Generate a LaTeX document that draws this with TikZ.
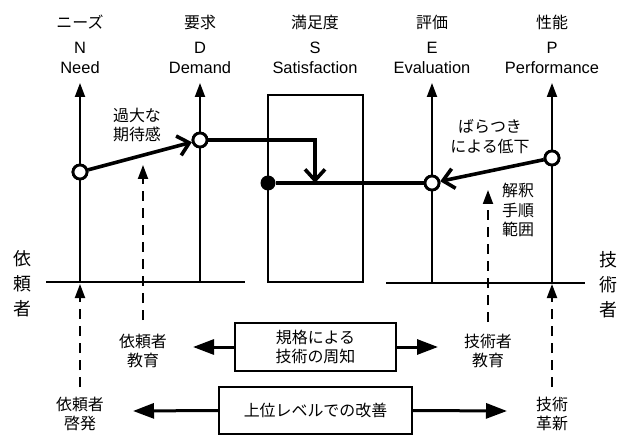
\documentclass[tikz,border=0pt]{standalone}
\usepackage{fontspec}
\setmainfont{Liberation Sans}
\newfontfamily\jp{Noto Sans CJK JP}
\usetikzlibrary{arrows.meta}
\begin{document}
\begin{tikzpicture}[x=1bp,y=-1bp,
  thinln/.style={line width=2bp},
  thickln/.style={line width=3.6bp},
  axis/.style={thinln,-{Triangle[length=14bp,width=10bp]}},
  dasharr/.style={thinln,dash pattern=on 10bp off 7bp,-{Triangle[length=14bp,width=10bp]}},
  boxarr/.style={line width=3bp,-{Triangle[length=21bp,width=15bp]}},
  openarr/.style={thickln,-{Straight Barb[length=11bp,width=20bp,line width=3.6bp]}},
  ocirc/.style={circle,draw,line width=2.8bp,fill=white,minimum size=14bp,inner sep=0pt},
  fcirc/.style={circle,fill=black,minimum size=15bp,inner sep=0pt},
  lbl/.style={font=\jp\fontsize{16}{20}\selectfont,align=center,inner sep=0pt},
  lat/.style={font=\fontsize{16.5}{20}\selectfont,align=center,inner sep=0pt},
  vlbl/.style={font=\jp\fontsize{18}{25}\selectfont,align=center,inner sep=0pt},
  txtbox/.style={draw,line width=2.4bp,font=\jp\fontsize{16}{20}\selectfont,align=center,inner sep=0pt}
]
\useasboundingbox (0,0) rectangle (629,435);
% top labels
\foreach \nm/\xx/\ja/\ab/\en in {n/80/ニーズ/N/Need, d/200/要求/D/Demand, s/315/満足度/S/Satisfaction, e/432/評価/E/Evaluation, p/552/性能/P/Performance}{
  \node[lbl] (ja\nm) at (\xx,22) {\ja};
  \node[lat] (ab\nm) at (\xx,48) {\ab};
  \node[lat] (en\nm) at (\xx,68) {\en};
}
% axis coordinates
\coordinate (ntop) at (80,83);  \coordinate (nbot) at (80,282);
\coordinate (dtop) at (200,83); \coordinate (dbot) at (200,282);
\coordinate (etop) at (432,83); \coordinate (ebot) at (432,282);
\coordinate (ptop) at (552,83); \coordinate (pbot) at (552,282);
\coordinate (ll) at (46,282); \coordinate (lr) at (245,282);
\coordinate (rl) at (386,283); \coordinate (rr) at (585,283);
% satisfaction box
\draw[thinln] (268,95) rectangle (363,282);
% axes
\draw[axis] (nbot) -- (ntop);
\draw[axis] (dbot) -- (dtop);
\draw[axis] (ebot) -- (etop);
\draw[axis] (pbot) -- (ptop);
\draw[thinln] (ll) -- (lr);
\draw[thinln] (rl) -- (rr);
% circles
\node[ocirc] (nc) at (80,172) {};
\node[ocirc] (dc) at (200,140) {};
\node[ocirc] (ec) at (432,183) {};
\node[ocirc] (pc) at (552,158) {};
\node[fcirc] (sd) at (268,183) {};
\coordinate (stip) at (315,183);
% thick connectors
\draw[openarr] (nc) -- (dc);
\draw[openarr] (dc) -| (stip);
\draw[thickln] (sd) -- (ec);
\draw[openarr] (pc) -- (ec);
% redraw circles on top
\node[ocirc] at (nc) {};
\node[ocirc] at (dc) {};
\node[ocirc] at (ec) {};
\node[ocirc] at (pc) {};
% labels
\node[lbl] (kadai) at (137,125) {過大な\\期待感};
\node[lbl] (bara) at (490,137) {ばらつき\\による低下};
\node[lbl] (kaishaku) at (518,210) {解釈\\手順\\範囲};
% dashed arrows
\coordinate (d1s) at (143,320); \coordinate (d1e) at (143,165);
\coordinate (d2s) at (488,322); \coordinate (d2e) at (488,190);
\coordinate (d3s) at (80,387);  \coordinate (d3e) at (80,284);
\coordinate (d4s) at (552,387); \coordinate (d4e) at (552,284);
\draw[dasharr] (d1s) -- (d1e);
\draw[dasharr] (d2s) -- (d2e);
\draw[dasharr] (d3s) -- (d3e);
\draw[dasharr] (d4s) -- (d4e);
% side labels
\node[vlbl] (irai) at (22,284) {依\\頼\\者};
\node[vlbl] (gijutsu) at (608,285) {技\\術\\者};
% bottom labels
\node[lbl] (iraikyo) at (143,351) {依頼者\\教育};
\node[lbl] (gikyo) at (488,351) {技術者\\教育};
\node[lbl] (iraikei) at (80,414) {依頼者\\啓発};
\node[lbl] (gikaku) at (552,414) {技術\\革新};
% boxes
\node[txtbox,minimum width=161bp,minimum height=48bp] (box1) at (315.5,347) {規格による\\技術の周知};
\node[txtbox,minimum width=193bp,minimum height=47bp] (box2) at (315.5,410.5) {上位レベルでの改善};
\coordinate (b1l) at (193,347); \coordinate (b1r) at (438,347);
\coordinate (b2l) at (133,411); \coordinate (b2r) at (507,411);
\draw[boxarr] (box1.west) -- (b1l);
\draw[boxarr] (box1.east) -- (b1r);
\draw[boxarr] (box2.west) -- (b2l);
\draw[boxarr] (box2.east) -- (b2r);
\end{tikzpicture}
\end{document}
